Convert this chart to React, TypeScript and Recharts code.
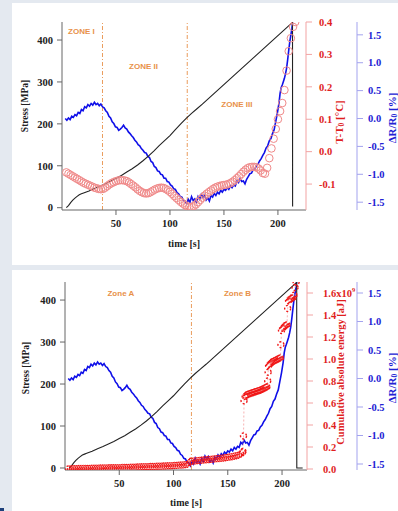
import React from 'react';
import { ComposedChart, Line, XAxis, YAxis, ReferenceLine, ReferenceDot } from 'recharts';

// ---------- data ----------
const timeTicks = [50, 100, 150, 200];
const stressTicks = [0, 100, 200, 300, 400];
const tempTicks = [-0.1, 0, 0.1, 0.2, 0.3, 0.4];
const resistTicks = [-1.5, -1, -0.5, 0, 0.5, 1, 1.5];
const energyTicks = [0, 0.2, 0.4, 0.6, 0.8, 1.0, 1.2, 1.4, 1.6];

// stress [MPa] vs time [s]
const stressTrace: number[][] = [
  [4, 0], [6, 5], [8, 12], [10, 18], [12, 23], [14, 27], [16, 31], [18, 33], [20, 35], [25, 40],
  [30, 46], [35, 51], [40, 57], [45, 63], [50, 70], [55, 77], [60, 85], [65, 93], [70, 102],
  [75, 112], [80, 123], [85, 135], [90, 148], [95, 160], [100, 172], [105, 186], [110, 200],
  [115, 213], [120, 225], [125, 236], [130, 247], [213.5, 442], [213.6, 3],
];
const stressTail: number[][] = [[213.6, 0], [219, 0]];

// ΔR/R0 [%] vs time [s]
const resistTrace: number[][] = [
  [3, 0.0], [4.5, -0.03], [6, 0.01], [7.5, -0.02], [9, 0.04], [10.5, 0.02], [12, 0.07], [13.5, 0.05],
  [15, 0.11], [16.5, 0.09], [18, 0.16], [19.5, 0.14], [21, 0.21], [22.5, 0.19], [24, 0.25], [25.5, 0.22],
  [27, 0.27], [28.5, 0.24], [30, 0.29], [31.5, 0.25], [33, 0.27], [34.5, 0.23], [36, 0.26], [37.5, 0.21],
  [39, 0.19], [40.5, 0.14], [42, 0.11], [43.5, 0.04], [45, 0.01], [46.5, -0.06], [48, -0.09], [49.5, -0.15],
  [51, -0.16], [52.5, -0.21], [54, -0.19], [55.5, -0.16], [57, -0.12], [58.5, -0.17], [60, -0.19],
  [61.5, -0.24], [63, -0.27], [64.5, -0.31], [66, -0.34], [67.5, -0.39], [69, -0.42], [70.5, -0.47],
  [72, -0.49], [73.5, -0.54], [75, -0.57], [76.5, -0.61], [78, -0.62], [79.5, -0.68], [81, -0.7],
  [82.5, -0.77], [84, -0.79], [85.5, -0.86], [87, -0.88], [88.5, -0.94], [90, -0.95], [91.5, -1.0],
  [93, -1.01], [94.5, -1.07], [96, -1.07], [97.5, -1.13], [99, -1.14], [100.5, -1.19], [102, -1.21],
  [103.5, -1.26], [105, -1.27], [106.5, -1.33], [108, -1.35], [109.5, -1.4], [111, -1.41], [112.5, -1.47],
  [114, -1.48], [115.5, -1.53], [117, -1.45], [118.5, -1.5], [120, -1.4], [121.5, -1.47], [123, -1.44],
  [124.5, -1.5], [126, -1.4], [127.5, -1.45], [129, -1.36], [130.5, -1.41], [132, -1.37], [133.5, -1.46],
  [135, -1.42], [136.5, -1.48], [138, -1.38], [139.5, -1.41], [141, -1.34], [142.5, -1.38], [144, -1.32],
  [145.5, -1.35], [147, -1.29], [148.5, -1.32], [150, -1.27], [151.5, -1.29], [153, -1.24], [154.5, -1.27],
  [156, -1.21], [157.5, -1.24], [159, -1.19], [160.5, -1.21], [162, -1.12], [163.5, -1.15], [165, -1.08],
  [166.5, -1.13], [168, -1.12], [169.5, -1.17], [171, -1.09], [172.5, -1.04], [174, -0.99], [175.5, -0.98],
  [177, -0.92], [178.5, -0.91], [180, -0.85], [181.5, -0.82], [183, -0.76], [184.5, -0.72], [186, -0.66],
  [187.5, -0.61], [189, -0.53], [190.5, -0.49], [192, -0.4], [193.5, -0.36], [195, -0.27], [196.5, -0.2],
  [198, -0.05], [199.5, 0.1], [201, 0.28], [202, 0.45], [203, 0.55], [204, 0.6], [205, 0.66], [206, 0.72],
  [207, 0.8], [208, 0.9], [209, 1.05], [210, 1.22], [211, 1.38], [212, 1.5], [213, 1.62], [213.6, 1.72],
];

// T - T0 [°C] vs time [s]
const tempTrace: number[][] = [
  [4, -0.064], [6, -0.068], [8, -0.072], [10, -0.076], [12, -0.08], [14, -0.084], [16, -0.088], [18, -0.092],
  [20, -0.096], [22, -0.099], [24, -0.102], [26, -0.105], [28, -0.108], [30, -0.111], [32, -0.113],
  [34, -0.115], [36, -0.116], [38, -0.115], [40, -0.111], [42, -0.106], [44, -0.101], [46, -0.097],
  [48, -0.094], [50, -0.091], [52, -0.089], [54, -0.088], [56, -0.088], [58, -0.089], [60, -0.091],
  [62, -0.095], [64, -0.1], [66, -0.105], [68, -0.11], [70, -0.116], [72, -0.121], [74, -0.125],
  [76, -0.128], [78, -0.129], [80, -0.128], [82, -0.125], [84, -0.121], [86, -0.117], [88, -0.114],
  [90, -0.112], [92, -0.111], [94, -0.112], [96, -0.115], [98, -0.119], [100, -0.124], [102, -0.13],
  [104, -0.137], [106, -0.143], [108, -0.149], [110, -0.155], [112, -0.16], [114, -0.165], [116, -0.169],
  [118, -0.171], [120, -0.171], [122, -0.168], [124, -0.163], [126, -0.156], [128, -0.149], [130, -0.142],
  [132, -0.136], [134, -0.13], [136, -0.125], [138, -0.12], [140, -0.115], [142, -0.111], [144, -0.108],
  [146, -0.106], [148, -0.104], [150, -0.103], [152, -0.102], [154, -0.1], [156, -0.097], [158, -0.093],
  [160, -0.088], [162, -0.082], [164, -0.076], [166, -0.069], [168, -0.062], [170, -0.056], [172, -0.051],
  [174, -0.048], [176, -0.047], [178, -0.047], [180, -0.048], [182, -0.052], [184, -0.058], [186, -0.066],
  [188, -0.068], [190, -0.05], [192, -0.02], [194, 0.01], [196, 0.04], [198, 0.07], [200, 0.1],
  [202, 0.125], [204, 0.15], [206, 0.19], [208, 0.25], [210, 0.31], [212, 0.35], [214, 0.385], [216, 0.4],
];

// cumulative absolute energy [x1e9 aJ] vs time [s]
const energyTrace: number[][] = [
  [3, 0.0], [5, 0.001], [7, 0.002], [9, 0.003], [11, 0.003], [13, 0.004], [15, 0.004], [17, 0.005],
  [19, 0.005], [21, 0.006], [23, 0.006], [25, 0.007], [27, 0.007], [29, 0.008], [31, 0.008], [33, 0.009],
  [35, 0.009], [37, 0.01], [39, 0.01], [41, 0.011], [43, 0.011], [45, 0.012], [47, 0.012], [49, 0.013],
  [51, 0.013], [53, 0.014], [55, 0.014], [57, 0.015], [59, 0.015], [61, 0.016], [63, 0.016], [65, 0.017],
  [67, 0.018], [69, 0.019], [71, 0.02], [73, 0.021], [75, 0.022], [77, 0.022], [79, 0.023], [81, 0.024],
  [83, 0.024], [85, 0.025], [87, 0.026], [89, 0.026], [91, 0.027], [93, 0.028], [95, 0.029], [97, 0.03],
  [99, 0.031], [101, 0.032], [103, 0.033], [105, 0.035], [107, 0.036], [109, 0.038], [111, 0.04],
  [113, 0.043], [115, 0.06], [116, 0.07], [118, 0.072], [120, 0.074], [122, 0.076], [124, 0.078],
  [126, 0.08], [128, 0.082], [130, 0.084], [132, 0.086], [134, 0.088], [136, 0.09], [138, 0.092],
  [140, 0.094], [142, 0.096], [144, 0.098], [146, 0.1], [148, 0.103], [150, 0.106], [152, 0.109],
  [154, 0.112], [156, 0.116], [158, 0.12], [160, 0.125], [162, 0.135], [163.5, 0.15], [164, 0.16],
  [164.5, 0.3], [165, 0.62], [166, 0.66], [167, 0.67], [168, 0.675], [169, 0.68], [170, 0.683],
  [171, 0.686], [172, 0.69], [173, 0.693], [174, 0.696], [175, 0.7], [176, 0.703], [177, 0.706],
  [178, 0.71], [179, 0.713], [180, 0.716], [181, 0.72], [182, 0.725], [183, 0.73], [184, 0.735],
  [185, 0.74], [186, 0.745], [186.8, 0.8], [187.2, 0.88], [187.6, 0.94], [188.5, 0.95], [189.5, 0.96],
  [190.5, 0.97], [191.5, 0.975], [192.5, 0.98], [193.5, 0.985], [194.5, 0.99], [195.5, 0.995],
  [196.5, 1.0], [197.5, 1.005], [198.5, 1.01], [199, 1.13], [199.5, 1.26], [200.5, 1.28], [201.5, 1.29],
  [202.5, 1.3], [203.5, 1.305], [204.5, 1.31], [205.2, 1.46], [206, 1.53], [207, 1.54], [208, 1.545],
  [209, 1.55], [210, 1.555], [211, 1.58], [212, 1.65], [213, 1.7],
];

const zoneBoundsTop = [37.5, 116];
const zoneBoundsBottom = [116.5];
const zoneNamesTop = ['ZONE I', 'ZONE II', 'ZONE III'];
const zoneAnchorsTop: number[][] = [[18, 420], [75.5, 338], [162, 248]];
const zoneNamesBottom = ['Zone A', 'Zone B'];
const zoneAnchorsBottom: number[][] = [[51.5, 416], [159, 416]];

// ---------- helpers ----------
const rows = (arr: number[][]) => arr.map(([t, v]) => ({ t, v }));

const SERIF = '"Liberation Serif", "Times New Roman", serif';
const SANS = '"Liberation Sans", Arial, sans-serif';
const BLACK = '#222';
const RED = '#e01e1e';
const BLUE = '#2222d4';
const RED_AX = '#f2a3a3';
const BLUE_AX = '#a3a3ee';
const ORANGE = '#e8914a';
const GRAY_AX = '#666';

const tickStyle = (fill: string) => ({ fill, fontSize: 10.5, fontWeight: 700, fontFamily: SERIF });

const VTitle = (p: any) => {
  const { viewBox, dx, dy, color, children, size } = p;
  const cx = viewBox.x + dx;
  const cy = viewBox.y + viewBox.height / 2 + dy;
  return (
    <text
      x={cx}
      y={cy}
      transform={`rotate(-90 ${cx} ${cy})`}
      textAnchor="middle"
      dominantBaseline="central"
      fill={color}
      fontSize={size}
      fontWeight={700}
      fontFamily={SERIF}
    >
      {children}
    </text>
  );
};

const EnergyTick = (p: any) => {
  const { x, y, payload } = p;
  const v = payload.value;
  return (
    <text x={x + 8} y={y} dy="0.35em" textAnchor="start" fill={RED} fontSize={10.5} fontWeight={700} fontFamily={SERIF}>
      {v === 1.6 ? (
        <>
          <tspan>1.6x10</tspan>
          <tspan dy={-5} fontSize={6.5}>9</tspan>
        </>
      ) : (
        v.toFixed(1)
      )}
    </text>
  );
};

const fmt1 = (v: number) => v.toFixed(1);

export default function App() {
  const stressRows = rows(stressTrace);
  const stressRowsB = rows([...stressTrace.slice(0, -1), ...stressTail]);
  const resistRows = rows(resistTrace);
  const tempRows = rows(tempTrace);
  const energyRows = rows(energyTrace);

  return (
    <div style={{ position: 'fixed', left: 0, top: 0, width: 398, height: 511, background: '#e4e9f0', overflow: 'hidden' }}>
      <div style={{ position: 'absolute', left: 0, top: 508, width: 4, height: 3, background: '#1d3f7a' }} />
      {/* ---------- top panel ---------- */}
      <div style={{ position: 'absolute', left: 12, top: 3, width: 386, height: 262, background: '#fff' }}>
        <ComposedChart width={386} height={262} margin={{ top: 19, right: 0, bottom: 15, left: 0 }}>
          <XAxis
            dataKey="t"
            type="number"
            domain={[0, 226]}
            ticks={timeTicks}
            allowDataOverflow
            height={40}
            tickSize={5}
            tickMargin={5}
            axisLine={{ stroke: GRAY_AX }}
            tickLine={{ stroke: GRAY_AX }}
            tick={tickStyle(BLACK)}
            label={{ value: 'time [s]', position: 'insideBottom', offset: 3, fill: BLACK, fontSize: 10, fontWeight: 700, fontFamily: SERIF }}
          />
          <YAxis
            yAxisId="s"
            orientation="left"
            width={50}
            domain={[-5.5, 443]}
            ticks={stressTicks}
            allowDataOverflow
            interval={0}
            tickSize={5}
            tickMargin={4}
            axisLine={{ stroke: GRAY_AX }}
            tickLine={{ stroke: GRAY_AX }}
            tick={tickStyle(BLACK)}
            label={(p: any) => <VTitle {...p} dx={13} dy={-10} color={BLACK} size={9.5}>Stress [MPa]</VTitle>}
          />
          <YAxis
            yAxisId="r1"
            orientation="right"
            width={51}
            domain={[-0.18, 0.4]}
            ticks={tempTicks}
            allowDataOverflow
            interval={0}
            tickSize={6}
            tickMargin={7}
            tickFormatter={fmt1}
            axisLine={{ stroke: RED_AX }}
            tickLine={{ stroke: RED_AX }}
            tick={tickStyle(RED)}
            label={(p: any) => (
              <VTitle {...p} dx={33} dy={6} color={RED} size={11}>
                T-T<tspan dy={2} fontSize={7.5}>0</tspan>
                <tspan dy={-2}> [°C]</tspan>
              </VTitle>
            )}
          />
          <YAxis
            yAxisId="r2"
            orientation="right"
            width={41}
            domain={[-1.64, 1.73]}
            ticks={resistTicks}
            allowDataOverflow
            interval={0}
            tickSize={6}
            tickMargin={5}
            tickFormatter={fmt1}
            axisLine={{ stroke: BLUE_AX }}
            tickLine={{ stroke: BLUE_AX }}
            tick={tickStyle(BLUE)}
            label={(p: any) => (
              <VTitle {...p} dx={35} dy={2} color={BLUE} size={11}>
                ΔR/R<tspan dy={2} fontSize={7.5}>0</tspan>
                <tspan dy={-2}> [%]</tspan>
              </VTitle>
            )}
          />
          {zoneBoundsTop.map((x) => (
            <ReferenceLine key={x} x={x} yAxisId="s" stroke={ORANGE} strokeWidth={0.9} strokeDasharray="4 2 1 2" />
          ))}
          {zoneNamesTop.map((n, i) => (
            <ReferenceDot
              key={n}
              x={zoneAnchorsTop[i][0]}
              y={zoneAnchorsTop[i][1]}
              yAxisId="s"
              r={0}
              fill="none"
              stroke="none"
              label={{ value: n, position: 'center', fill: ORANGE, fontSize: 8, fontWeight: 700, fontFamily: SANS }}
            />
          ))}
          <Line
            yAxisId="r1"
            data={tempRows}
            dataKey="v"
            stroke="none"
            dot={{ r: 3.8, stroke: '#f08a8a', strokeWidth: 1, fill: 'none' }}
            isAnimationActive={false}
          />
          <Line yAxisId="r2" data={resistRows} dataKey="v" stroke="#1010e8" strokeWidth={1.6} dot={false} isAnimationActive={false} />
          <Line yAxisId="s" data={stressRows} dataKey="v" stroke={BLACK} strokeWidth={1.1} dot={false} isAnimationActive={false} />
        </ComposedChart>
      </div>

      {/* ---------- bottom panel ---------- */}
      <div style={{ position: 'absolute', left: 12, top: 270, width: 386, height: 241, background: '#fff' }}>
        <ComposedChart width={386} height={241} margin={{ top: 12, right: 0, bottom: 3, left: 0 }}>
          <XAxis
            dataKey="t"
            type="number"
            domain={[0, 223]}
            ticks={timeTicks}
            allowDataOverflow
            height={38}
            tickSize={5}
            tickMargin={5}
            axisLine={{ stroke: GRAY_AX }}
            tickLine={{ stroke: GRAY_AX }}
            tick={tickStyle(BLACK)}
            label={{ value: 'time [s]', position: 'insideBottom', offset: 2, fill: BLACK, fontSize: 10, fontWeight: 700, fontFamily: SERIF }}
          />
          <YAxis
            yAxisId="s"
            orientation="left"
            width={53}
            domain={[-4.8, 443]}
            ticks={stressTicks}
            allowDataOverflow
            interval={0}
            tickSize={5}
            tickMargin={4}
            axisLine={{ stroke: GRAY_AX }}
            tickLine={{ stroke: GRAY_AX }}
            tick={tickStyle(BLACK)}
            label={(p: any) => <VTitle {...p} dx={14} dy={-8} color={BLACK} size={9.5}>Stress [MPa]</VTitle>}
          />
          <YAxis
            yAxisId="r1"
            orientation="right"
            width={50}
            domain={[-0.009, 1.7]}
            ticks={energyTicks}
            allowDataOverflow
            interval={0}
            tickSize={6}
            axisLine={{ stroke: RED_AX }}
            tickLine={{ stroke: RED_AX }}
            tick={<EnergyTick />}
            label={(p: any) => (
              <VTitle {...p} dx={33} dy={-4} color={RED} size={10.5}>
                Cumulative absolute energy [aJ]
              </VTitle>
            )}
          />
          <YAxis
            yAxisId="r2"
            orientation="right"
            width={41}
            domain={[-1.605, 1.693]}
            ticks={resistTicks}
            allowDataOverflow
            interval={0}
            tickSize={6}
            tickMargin={5}
            tickFormatter={fmt1}
            axisLine={{ stroke: BLUE_AX }}
            tickLine={{ stroke: BLUE_AX }}
            tick={tickStyle(BLUE)}
            label={(p: any) => (
              <VTitle {...p} dx={35} dy={2} color={BLUE} size={11}>
                ΔR/R<tspan dy={2} fontSize={7.5}>0</tspan>
                <tspan dy={-2}> [%]</tspan>
              </VTitle>
            )}
          />
          {zoneBoundsBottom.map((x) => (
            <ReferenceLine key={x} x={x} yAxisId="s" stroke={ORANGE} strokeWidth={0.9} strokeDasharray="4 2 1 2" />
          ))}
          {zoneNamesBottom.map((n, i) => (
            <ReferenceDot
              key={n}
              x={zoneAnchorsBottom[i][0]}
              y={zoneAnchorsBottom[i][1]}
              yAxisId="s"
              r={0}
              fill="none"
              stroke="none"
              label={{ value: n, position: 'center', fill: ORANGE, fontSize: 8, fontWeight: 700, fontFamily: SANS }}
            />
          ))}
          <Line yAxisId="r2" data={resistRows} dataKey="v" stroke="#1010e8" strokeWidth={1.6} dot={false} isAnimationActive={false} />
          <Line
            yAxisId="r1"
            data={energyRows}
            dataKey="v"
            stroke="#f5a0a0"
            strokeWidth={0.8}
            strokeDasharray="2 2"
            dot={{ r: 3, stroke: '#f01818', strokeWidth: 1.4, fill: 'none' }}
            isAnimationActive={false}
          />
          <Line yAxisId="s" data={stressRowsB} dataKey="v" stroke={BLACK} strokeWidth={1.1} dot={false} isAnimationActive={false} />
        </ComposedChart>
      </div>
    </div>
  );
}
